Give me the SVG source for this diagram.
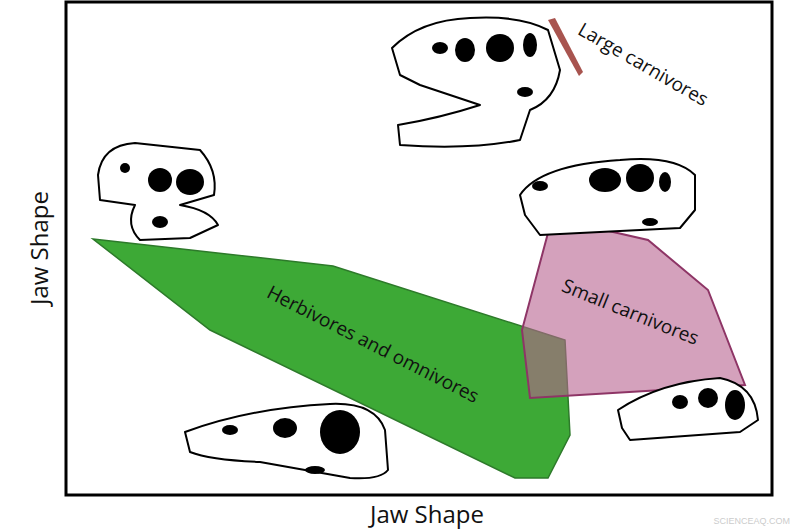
<svg xmlns="http://www.w3.org/2000/svg" width="800" height="530" viewBox="0 0 800 530">
<style>
.sk{fill:#fff;stroke:#000;stroke-width:2;stroke-linejoin:round}
.h{fill:#000}
.lb{font-family:"Myriad Pro","Open Sans","Liberation Sans",sans-serif;font-size:19px;fill:#111}
.ax{font-family:"Open Sans","Liberation Sans",sans-serif;font-size:24px;fill:#111}
</style>
<rect width="800" height="530" fill="#fff"/>
<rect x="66" y="2" width="706" height="493" fill="none" stroke="#000" stroke-width="3"/>
<g id="regions">
<polygon points="93,239 333,266 565,340 570,435 548,478 515,478 210,330" fill="#3da936" stroke="#2d7a2a" stroke-width="1.5"/>
<polygon points="552,218 648,240 708,290 745,385 530,398 522,330" fill="#b8628f" fill-opacity="0.6" stroke="#8e3566" stroke-width="2"/>
<polygon points="548,20 555,18 583,72 579,76" fill="#a8544f"/>
</g>
<g id="skull-trex">
<path class="sk" d="M392,48 Q420,20 470,18 Q520,15 548,30 L560,70 Q555,100 530,110 L520,140 Q470,150 400,145 L398,125 Q440,118 480,105 Q450,95 420,85 L400,75 Z"/>
<ellipse class="h" cx="440" cy="48" rx="8" ry="6"/><ellipse class="h" cx="465" cy="50" rx="10" ry="12"/><ellipse class="h" cx="500" cy="48" rx="14" ry="14"/><ellipse class="h" cx="530" cy="45" rx="7" ry="12"/><ellipse class="h" cx="525" cy="92" rx="8" ry="5"/>
</g>
<g id="skull-top-left">
<path class="sk" d="M98,175 Q102,145 135,143 L200,150 Q218,170 214,195 L180,205 Q210,210 218,225 L190,238 L140,240 Q125,225 135,205 L100,200 Z"/>
<ellipse class="h" cx="160" cy="180" rx="12" ry="12"/><ellipse class="h" cx="190" cy="182" rx="14" ry="13"/><ellipse class="h" cx="125" cy="168" rx="5" ry="5"/><ellipse class="h" cx="160" cy="222" rx="8" ry="6"/>
</g>
<g id="skull-mid-right">
<path class="sk" d="M520,195 Q540,165 620,160 Q675,155 695,175 L695,210 L680,228 L540,235 L525,215 Z"/>
<ellipse class="h" cx="540" cy="186" rx="8" ry="5"/><ellipse class="h" cx="605" cy="180" rx="16" ry="12"/><ellipse class="h" cx="640" cy="178" rx="14" ry="14"/><ellipse class="h" cx="665" cy="182" rx="6" ry="10"/><ellipse class="h" cx="650" cy="222" rx="8" ry="4"/>
</g>
<g id="skull-bottom">
<path class="sk" d="M185,432 Q250,408 330,404 Q375,402 385,430 L388,470 Q380,480 350,478 L260,462 Q210,460 190,452 Z"/>
<ellipse class="h" cx="230" cy="430" rx="8" ry="5"/><ellipse class="h" cx="285" cy="428" rx="12" ry="10"/><ellipse class="h" cx="340" cy="432" rx="20" ry="22"/><ellipse class="h" cx="315" cy="470" rx="10" ry="4"/>
</g>
<g id="skull-bottom-right">
<path class="sk" d="M618,410 Q660,382 720,378 Q755,385 758,420 L740,432 L630,440 L622,428 Z"/>
<ellipse class="h" cx="680" cy="402" rx="8" ry="7"/><ellipse class="h" cx="708" cy="398" rx="10" ry="10"/><ellipse class="h" cx="735" cy="405" rx="10" ry="15"/>
</g>
<g id="labels">
<text class="lb" transform="translate(370,350) rotate(27)" text-anchor="middle">Herbivores and omnivores</text>
<text class="lb" transform="translate(628,318) rotate(22)" text-anchor="middle">Small carnivores</text>
<text class="lb" transform="translate(640,70) rotate(30)" text-anchor="middle">Large carnivores</text>
<text class="ax" x="427" y="523" text-anchor="middle">Jaw Shape</text>
<text class="ax" transform="translate(48,248) rotate(-90)" text-anchor="middle">Jaw Shape</text>
<text x="790" y="524" text-anchor="end" font-family="Liberation Sans,sans-serif" font-size="9" fill="#ccc">SCIENCEAQ.COM</text>
</g>
</svg>
